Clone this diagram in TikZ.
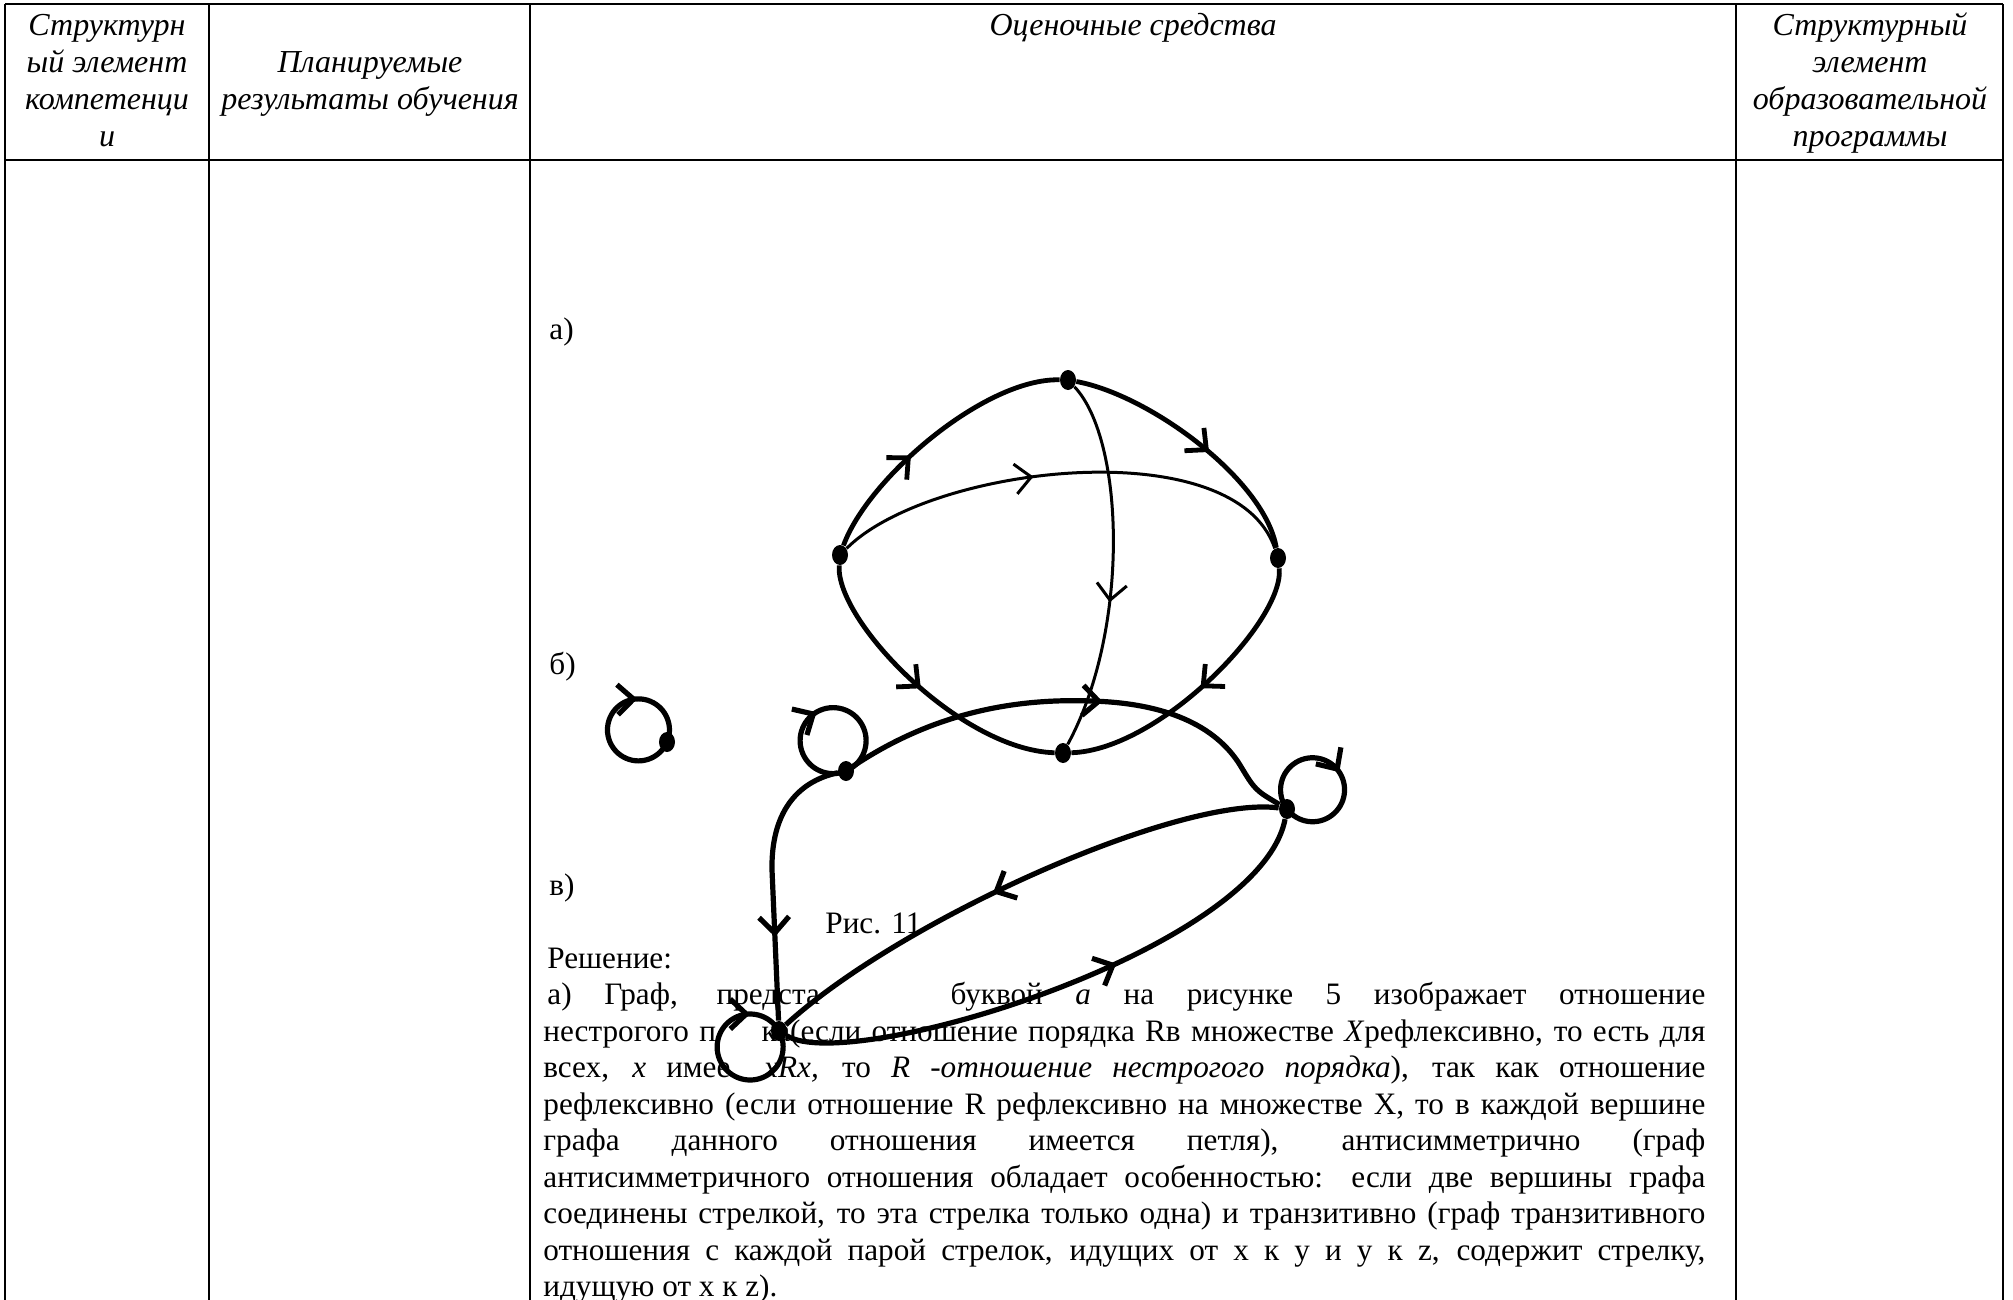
\documentclass[tikz,border=0pt]{standalone}
\usepackage{fontspec}
\setmainfont{Liberation Serif}
\usetikzlibrary{shapes.geometric,arrows.meta,decorations.markings,positioning}

\begin{document}
\begin{tikzpicture}[x=0.5pt,y=-0.5pt,
  every node/.style={inner sep=0pt, font=\fontsize{15.6}{18}\selectfont},
  head/.style={anchor=base, font=\fontsize{16}{18.3}\selectfont\itshape},
  txtline/.style={anchor=base west},
  tbl/.style={line width=1.3pt},
  vtx/.style={ellipse, fill, minimum width=8pt, minimum height=10pt},
  gthick/.style={line width=2.4pt},
  gthin/.style={line width=1.5pt},
  bline/.style={line width=2.6pt},
  midarrow/.style={postaction={decorate}, decoration={markings,
    mark=at position #1 with {\arrow{Straight Barb[length=8pt,width=15pt]}}}}]
\useasboundingbox (0,0) rectangle (2013,1300);

% table
\draw[tbl] (5,4) -- (2003,4);
\draw[tbl] (5,160) -- (2003,160);
\foreach \x in {5,209,530,1736,2003}
  \draw[tbl] (\x,4) -- (\x,1300);

% header
\node[head] (h11) at (107,36) {Структурн};
\node[head] (h12) at (107,73) {ый элемент};
\node[head] (h13) at (107,110) {компетенци};
\node[head] (h14) at (107,147) {и};
\node[head] (h21) at (370,73) {Планируемые};
\node[head] (h22) at (370,110) {результаты обучения};
\node[head] (h31) at (1133,36) {Оценочные средства};
\node[head] (h41) at (1870,36) {Структурный};
\node[head] (h42) at (1870,73) {элемент};
\node[head] (h43) at (1870,110) {образовательной};
\node[head] (h44) at (1870,147) {программы};

% labels
\node[txtline] (la) at (549,339) {а)};
\node[txtline] (lb) at (549,674) {б)};
\node[txtline] (lc) at (549,895) {в)};
\node[txtline] (fig) at (825,933) {Рис. 11};

% graph a
\node[vtx] (a1) at (1068,380) {};
\node[vtx] (a2) at (840,555) {};
\node[vtx] (a3) at (1278,558) {};
\node[vtx] (a4) at (1063,753) {};
\draw[gthick, midarrow=0.4] (a2) .. controls (868,478) and (985,378) .. (a1);
\draw[gthick, midarrow=0.56] (a1) .. controls (1150,395) and (1265,480) .. (a3);
\draw[gthin, midarrow=0.43] (a2) .. controls (930,465) and (1235,430) .. (a3);
\draw[gthin, midarrow=0.6] (a1) .. controls (1125,440) and (1130,630) .. (a4);
\draw[gthick, midarrow=0.5] (a2) .. controls (835,620) and (960,750) .. (a4);
\draw[gthick, midarrow=0.5] (a3) .. controls (1285,620) and (1160,750) .. (a4);

% graph b (loops run clockwise from their vertex)
\node[vtx] (b1) at (667,742) {};
\node[vtx] (b2) at (846,771) {};
\node[vtx] (b3) at (1287,809) {};
\node[vtx] (b4) at (779,1031) {};
\draw[bline, midarrow=0.68] (b1) arc[start angle=23, end angle=383, radius=31];
\draw[bline, midarrow=0.48] (b2) arc[start angle=67, end angle=427, radius=33];
\draw[bline, midarrow=0.51] (b3) arc[start angle=143, end angle=503, radius=32];
\draw[bline, midarrow=0.83] (b4) arc[start angle=331, end angle=691, radius=33];
\draw[bline, midarrow=0.55] (b2) .. controls (930,715) and (1010,698) .. (1091,701)
  .. controls (1165,703) and (1215,725) .. (1240,765) .. controls (1255,790) .. (b3);
\draw[bline, midarrow=0.7] (b2) .. controls (795,782) and (771,815) .. (772,870) -- (b4);
\draw[bline, midarrow=0.55] (b3) .. controls (1180,795) and (900,920) .. (b4);
\draw[bline, midarrow=0.6] (b4) .. controls (850,1075) and (1260,950) .. (b3);

% solution text
\node[txtline] (ln0) at (547,968) {Решение:};
\node[txtline] (ln1) at (547,1004.5) {\makebox[579pt][s]{а) Граф, предста\phantom{вленны} буквой \textit{а} на рисунке 5 изображает отношение}};
\node[txtline] (ln2) at (543,1041) {\makebox[581pt][s]{нестрогого п\phantom{оря}ка(если отношение порядка Rв множестве \textit{X}рефлексивно, то есть для}};
\node[txtline] (ln3) at (543,1077.5) {\makebox[581pt][s]{всех, \textit{x} имее\phantom{т} \textit{xRx,} то \textit{R -отношение нестрогого порядка}), так как отношение}};
\node[txtline] (ln4) at (543,1114) {\makebox[581pt][s]{рефлексивно (если отношение R рефлексивно на множестве X, то в каждой вершине}};
\node[txtline] (ln5) at (543,1150.5) {\makebox[581pt][s]{графа данного отношения имеется петля), антисимметрично (граф}};
\node[txtline] (ln6) at (543,1187) {\makebox[581pt][s]{антисимметричного отношения обладает особенностью: если две вершины графа}};
\node[txtline] (ln7) at (543,1223.5) {\makebox[581pt][s]{соединены стрелкой, то эта стрелка только одна) и транзитивно (граф транзитивного}};
\node[txtline] (ln8) at (543,1260) {\makebox[581pt][s]{отношения с каждой парой стрелок, идущих от x к y и y к z, содержит стрелку,}};
\node[txtline] (ln9) at (543,1296) {идущую от x к z).};
\end{tikzpicture}
\end{document}
